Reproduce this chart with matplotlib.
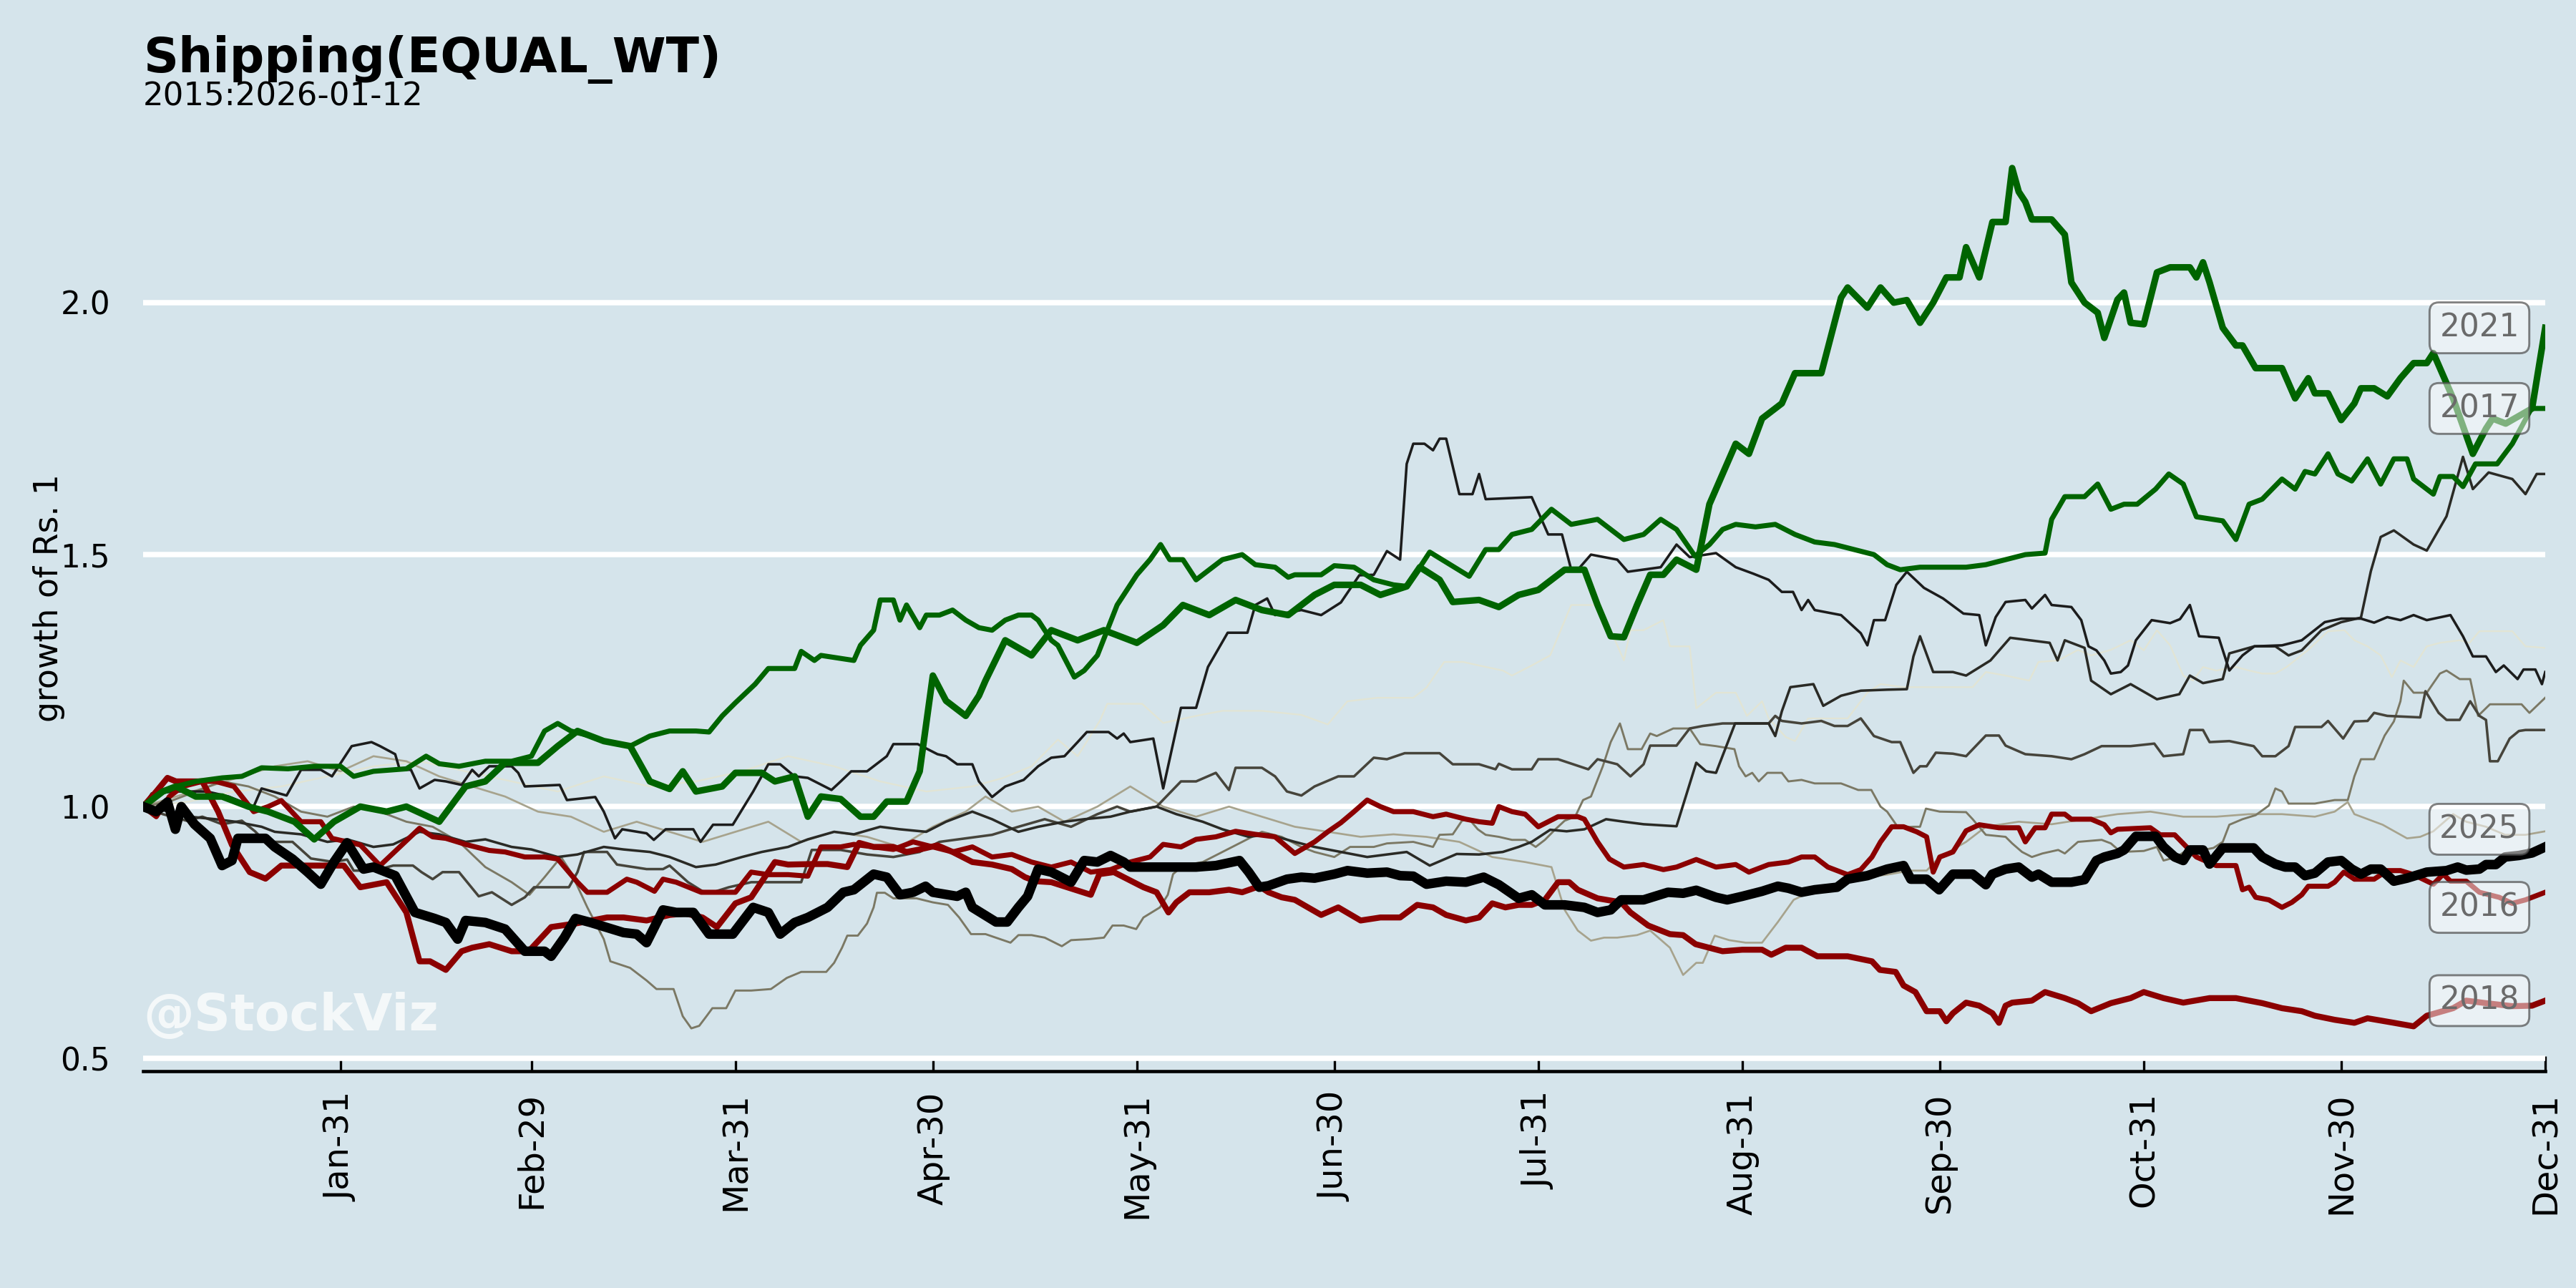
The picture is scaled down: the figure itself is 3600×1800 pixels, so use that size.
import numpy as np
import matplotlib
matplotlib.use("Agg")
import matplotlib.pyplot as plt

# (day of year, growth of Rs. 1) -- day 0 = Jan 1, day 365 = Dec 31
y2021 = [(0, 1.00), (3, 1.03), (5, 1.04), (8, 1.02), (12, 1.02), (16, 1.00), (19, 0.99), (23, 0.97), (26, 0.935),
         (29, 0.97), (33, 1.00), (37, 0.99), (40, 1.00), (45, 0.97), (49, 1.04), (52, 1.05), (55, 1.087), (60, 1.087),
         (63, 1.12), (66, 1.15), (70, 1.13), (74, 1.12), (77, 1.05), (80, 1.035), (82, 1.07), (84, 1.03), (88, 1.04),
         (90, 1.067), (94, 1.067), (96, 1.05), (99, 1.06), (101, 0.98), (103, 1.02), (106, 1.015), (109, 0.98),
         (111, 0.98), (113, 1.01), (116, 1.01), (118, 1.07), (120, 1.26), (122, 1.21), (125, 1.18), (127, 1.22),
         (128, 1.25), (131, 1.33), (135, 1.30), (138, 1.35), (142, 1.33), (146, 1.35), (151, 1.325), (155, 1.36),
         (158, 1.40), (162, 1.38), (166, 1.41), (170, 1.39), (174, 1.38), (178, 1.42), (181, 1.44), (185, 1.44),
         (188, 1.42), (192, 1.437), (194, 1.475), (197, 1.45), (199, 1.406), (203, 1.41), (206, 1.396), (209, 1.42),
         (212, 1.43), (216, 1.47), (219, 1.47), (221, 1.40), (223, 1.338), (225, 1.336), (227, 1.40), (229, 1.46),
         (231, 1.46), (233, 1.49), (236, 1.47), (238, 1.60), (240, 1.66), (242, 1.72), (244, 1.70), (246, 1.77),
         (249, 1.80), (251, 1.86), (255, 1.86), (258, 2.01), (259, 2.03), (262, 1.99), (264, 2.03), (266, 2.00),
         (268, 2.005), (270, 1.96), (272, 2.00), (274, 2.05), (276, 2.05), (277, 2.11), (279, 2.05), (281, 2.16),
         (283, 2.16), (284, 2.267), (285, 2.22), (286, 2.20), (287, 2.165), (290, 2.165), (292, 2.135), (293, 2.04),
         (295, 2.00), (297, 1.98), (298, 1.93), (300, 2.006), (301, 2.02), (302, 1.96), (304, 1.957), (306, 2.06),
         (308, 2.07), (311, 2.07), (312, 2.05), (313, 2.08), (314, 2.04), (316, 1.95), (318, 1.915), (319, 1.915),
         (321, 1.87), (325, 1.87), (327, 1.81), (329, 1.85), (330, 1.82), (332, 1.82), (334, 1.767), (336, 1.80),
         (337, 1.83), (339, 1.83), (341, 1.814), (343, 1.85), (345, 1.88), (347, 1.88), (348, 1.90), (351, 1.81),
         (354, 1.70), (356, 1.75), (357, 1.77), (359, 1.76), (361, 1.775), (363, 1.79), (365, 1.95)]

y2017 = [(0, 1.00), (3, 1.03), (5, 1.04), (8, 1.05), (12, 1.057), (15, 1.06), (18, 1.077), (22, 1.075), (26, 1.08),
         (30, 1.08), (32, 1.06), (35, 1.07), (40, 1.075), (43, 1.10), (45, 1.085), (48, 1.08), (52, 1.09), (56, 1.09),
         (59, 1.10), (61, 1.15), (63, 1.165), (65, 1.15), (68, 1.14), (70, 1.13), (74, 1.12), (77, 1.14), (80, 1.15),
         (84, 1.15), (86, 1.148), (88, 1.18), (90, 1.206), (93, 1.243), (95, 1.274), (99, 1.274), (100, 1.308),
         (102, 1.29), (103, 1.30), (108, 1.29), (109, 1.32), (111, 1.35), (112, 1.41), (114, 1.41), (115, 1.37),
         (116, 1.40), (118, 1.355), (119, 1.38), (121, 1.38), (123, 1.39), (125, 1.37), (127, 1.355), (129, 1.35),
         (131, 1.37), (133, 1.38), (135, 1.38), (136, 1.37), (138, 1.33), (139, 1.32), (141.5, 1.257), (143, 1.27),
         (145, 1.30), (148, 1.40), (151, 1.46), (153, 1.49), (154.6, 1.52), (156, 1.49), (158, 1.49), (160, 1.45),
         (162, 1.47), (164, 1.49), (167, 1.50), (169, 1.48), (172, 1.475), (174, 1.455), (175, 1.46), (179, 1.46),
         (181, 1.478), (184, 1.475), (187, 1.45), (190, 1.44), (192, 1.437), (194, 1.475), (195.5, 1.505),
         (198, 1.485), (201.5, 1.457), (204, 1.51), (206, 1.51), (208, 1.54), (211, 1.55), (214, 1.59), (217, 1.56),
         (221, 1.57), (223, 1.55), (225, 1.53), (228, 1.54), (230.6, 1.57), (233, 1.55), (235.8, 1.497), (238, 1.52),
         (240, 1.55), (242, 1.56), (245, 1.555), (248, 1.56), (251, 1.54), (254, 1.525), (257, 1.52), (260, 1.51),
         (263, 1.50), (265, 1.48), (267, 1.47), (270, 1.475), (273, 1.475), (277, 1.475), (280, 1.48), (283, 1.49),
         (286, 1.50), (289, 1.503), (290, 1.57), (292, 1.615), (295, 1.615), (297, 1.64), (299, 1.59), (301, 1.60),
         (303, 1.60), (305.8, 1.63), (307.8, 1.66), (310, 1.64), (312, 1.575), (316, 1.567), (318, 1.53), (320, 1.60),
         (322, 1.61), (325, 1.65), (327, 1.63), (328.5, 1.665), (330, 1.66), (332, 1.70), (333.5, 1.66),
         (335.6, 1.646), (338, 1.69), (340, 1.64), (342, 1.69), (344, 1.69), (345, 1.65), (348, 1.62), (349, 1.655),
         (351, 1.655), (352.5, 1.635), (354.4, 1.68), (357.7, 1.68), (360, 1.72), (362.9, 1.79), (365, 1.79)]

y2018 = [(0, 1.00), (2, 1.03), (3.7, 1.057), (5, 1.05), (6.6, 1.05), (9, 1.05), (11.4, 0.99), (13.5, 0.924),
         (16.2, 0.87), (18.6, 0.857), (21, 0.883), (26, 0.883), (30.5, 0.883), (33, 0.84), (37, 0.85), (40, 0.79),
         (42, 0.693), (43.6, 0.693), (46, 0.676), (48.4, 0.713), (50, 0.72), (52.6, 0.727), (56, 0.713), (58.6, 0.713),
         (62, 0.761), (65.7, 0.768), (70.5, 0.78), (73, 0.78), (76.5, 0.774), (80, 0.785), (82.4, 0.788), (85, 0.78),
         (87.2, 0.761), (90, 0.808), (92.4, 0.82), (96, 0.89), (98, 0.885), (101.6, 0.886), (104, 0.886), (107, 0.88),
         (108.8, 0.928), (111, 0.92), (114, 0.92), (116, 0.91), (118, 0.915), (120.7, 0.923), (123, 0.91), (126, 0.89),
         (129, 0.885), (132, 0.876), (134, 0.86), (135.6, 0.852), (138, 0.85), (141.6, 0.835), (144, 0.825),
         (145.3, 0.866), (147.5, 0.87), (149, 0.86), (150.5, 0.85), (152, 0.84), (154, 0.83), (155.8, 0.79),
         (157, 0.81), (159, 0.83), (162, 0.83), (165, 0.835), (167, 0.83), (169.6, 0.842), (171, 0.83), (173, 0.82),
         (175, 0.815), (177, 0.80), (179, 0.785), (181.6, 0.80), (185, 0.774), (188, 0.78), (191, 0.78),
         (193.6, 0.805), (196, 0.80), (198, 0.785), (201, 0.774), (203, 0.78), (205, 0.808), (207, 0.80),
         (209, 0.805), (211, 0.805), (213, 0.815), (215, 0.85), (216.7, 0.85), (218, 0.835), (221, 0.818),
         (224.6, 0.81), (226, 0.79), (228.7, 0.764), (232, 0.747), (234, 0.745), (235.9, 0.727), (240, 0.713),
         (243, 0.716), (246, 0.716), (247.4, 0.706), (249.6, 0.72), (252, 0.72), (254.4, 0.703), (259, 0.703),
         (262.7, 0.693), (263.9, 0.676), (266.3, 0.672), (267.5, 0.645), (269.3, 0.632), (271, 0.594), (273, 0.594),
         (274, 0.574), (275, 0.59), (277, 0.611), (279, 0.605), (281, 0.59), (282, 0.571), (283, 0.605), (284, 0.611),
         (287, 0.615), (289, 0.632), (292, 0.62), (294, 0.61), (296, 0.594), (299, 0.61), (302, 0.62), (304, 0.632),
         (307, 0.62), (310, 0.611), (314, 0.62), (318, 0.62), (322, 0.61), (325, 0.60), (328, 0.594), (330, 0.585),
         (333, 0.577), (336, 0.571), (338, 0.58), (342, 0.571), (345, 0.564), (347, 0.585), (351, 0.60), (353, 0.615),
         (356, 0.61), (360, 0.604), (363, 0.605), (365, 0.615)]

y2016 = [(0, 1.00), (2, 0.98), (4, 1.02), (6, 1.04), (9, 1.05), (11, 1.05), (13.8, 1.04), (16.8, 0.99), (19, 1.00),
         (21, 1.012), (24, 0.97), (27, 0.97), (28.7, 0.937), (31, 0.93), (33, 0.924), (36, 0.883), (39, 0.92),
         (42, 0.957), (44, 0.94), (46, 0.937), (49, 0.925), (52.6, 0.913), (55, 0.91), (58, 0.90), (61, 0.90),
         (63, 0.896), (66, 0.85), (67.5, 0.83), (70.5, 0.83), (73.5, 0.856), (75, 0.85), (77.7, 0.832), (79, 0.856),
         (81, 0.85), (84.8, 0.83), (88, 0.83), (90, 0.83), (92.4, 0.87), (95, 0.865), (98, 0.865), (101, 0.862),
         (103, 0.92), (106, 0.92), (108, 0.925), (111, 0.92), (114, 0.915), (117, 0.93), (120, 0.92), (123, 0.91),
         (126, 0.92), (129, 0.90), (132, 0.905), (135, 0.89), (138, 0.88), (141, 0.89), (144, 0.87), (147, 0.875),
         (150, 0.89), (153, 0.90), (155, 0.925), (157.7, 0.92), (160, 0.935), (163, 0.94), (166, 0.951), (169, 0.945),
         (172, 0.94), (175, 0.907), (178, 0.93), (180, 0.95), (182, 0.968), (184, 0.99), (186, 1.013), (188, 1.00),
         (190, 0.99), (193, 0.99), (196, 0.98), (198, 0.985), (201, 0.975), (203, 0.97), (205, 0.967), (206, 1.00),
         (208, 0.99), (210, 0.985), (212, 0.96), (215, 0.98), (218, 0.98), (219, 0.975), (221, 0.93), (222.8, 0.896),
         (225, 0.88), (228, 0.885), (231, 0.875), (233, 0.88), (236, 0.895), (239, 0.88), (242, 0.885), (244, 0.87),
         (247, 0.885), (250, 0.89), (252, 0.90), (254, 0.90), (256, 0.88), (258, 0.87), (259, 0.865), (261, 0.875),
         (262.7, 0.90), (264, 0.93), (265.7, 0.96), (267.5, 0.96), (269.5, 0.95), (271, 0.94), (272, 0.87),
         (273, 0.90), (275, 0.91), (277, 0.952), (279, 0.964), (282, 0.958), (285, 0.958), (286, 0.93),
         (287.5, 0.958), (289, 0.958), (290, 0.985), (292, 0.985), (293, 0.975), (296, 0.975), (298, 0.964),
         (299, 0.948), (300, 0.955), (305, 0.958), (306.5, 0.944), (308.7, 0.944), (310.5, 0.92), (312, 0.90),
         (315, 0.883), (318, 0.883), (319, 0.835), (320, 0.84), (321, 0.82), (323, 0.815), (325, 0.80),
         (326.5, 0.81), (328, 0.825), (329, 0.842), (332, 0.842), (333, 0.85), (334.4, 0.87), (336, 0.856),
         (339, 0.856), (341, 0.873), (343, 0.873), (345, 0.865), (348, 0.846), (349.5, 0.866), (350.6, 0.852),
         (353, 0.852), (355, 0.83), (358, 0.82), (360, 0.808), (362, 0.815), (365, 0.83)]

y2025 = [(0, 1.00), (2, 0.99), (3.7, 1.009), (4.9, 0.955), (5.8, 1.00), (7.8, 0.965), (10.2, 0.937), (12, 0.883),
         (13.5, 0.893), (14.4, 0.937), (18.6, 0.937), (20, 0.92), (22.7, 0.896), (25, 0.87), (27, 0.846), (29, 0.89),
         (31, 0.928), (33.5, 0.876), (35, 0.88), (38.3, 0.863), (41.3, 0.79), (44.3, 0.778), (46, 0.77),
         (47.8, 0.737), (49, 0.774), (52, 0.77), (55, 0.757), (58, 0.713), (61, 0.713), (62, 0.703), (64, 0.74),
         (65.7, 0.778), (68, 0.77), (70.5, 0.76), (73, 0.75), (75, 0.747), (76.5, 0.73), (79, 0.795), (81, 0.79),
         (83.6, 0.79), (86, 0.747), (89.6, 0.747), (92.7, 0.80), (95, 0.79), (96.8, 0.747), (99, 0.77), (101, 0.78),
         (104, 0.80), (106.4, 0.83), (108, 0.835), (111, 0.866), (113, 0.86), (115, 0.825), (117, 0.83),
         (118.9, 0.842), (120, 0.83), (123.7, 0.822), (125, 0.83), (126, 0.80), (129.6, 0.771), (131.3, 0.771),
         (133, 0.80), (134.4, 0.822), (136, 0.876), (138, 0.87), (141, 0.85), (143, 0.893), (145, 0.89),
         (147, 0.903), (149, 0.89), (150, 0.88), (155, 0.88), (160, 0.88), (163, 0.883), (166.6, 0.893), (168, 0.87),
         (169.6, 0.84), (171, 0.843), (173.8, 0.856), (176, 0.86), (178, 0.858), (181, 0.866), (183, 0.873),
         (186, 0.868), (189, 0.87), (191, 0.863), (193, 0.862), (195, 0.846), (198, 0.852), (201, 0.85),
         (203.7, 0.86), (206, 0.845), (209, 0.818), (211, 0.825), (213, 0.805), (216, 0.805), (219, 0.80),
         (221, 0.79), (223, 0.795), (224.6, 0.815), (228, 0.815), (231.7, 0.83), (234, 0.828), (236, 0.834),
         (239, 0.82), (240.7, 0.815), (243, 0.822), (246, 0.832), (248.4, 0.842), (250, 0.838), (252, 0.83),
         (254, 0.835), (257.4, 0.84), (259, 0.856), (262, 0.863), (265, 0.876), (267.5, 0.883), (268.6, 0.856),
         (271, 0.856), (272.9, 0.835), (275, 0.866), (278, 0.866), (280, 0.845), (281, 0.866), (283, 0.876),
         (285, 0.88), (287, 0.86), (288, 0.866), (290, 0.85), (293, 0.85), (295, 0.855), (296.8, 0.893),
         (298, 0.90), (300, 0.907), (301, 0.914), (302.8, 0.941), (305.8, 0.941), (307, 0.92), (308.7, 0.90),
         (310, 0.893), (311, 0.914), (313, 0.914), (314, 0.886), (316, 0.918), (320.7, 0.918), (322, 0.90),
         (324, 0.886), (325.5, 0.88), (327, 0.88), (328.5, 0.863), (330, 0.868), (332, 0.89), (334, 0.893),
         (335.6, 0.876), (337, 0.866), (338.5, 0.876), (340, 0.876), (342, 0.852), (344, 0.858), (347, 0.87),
         (350, 0.873), (351.7, 0.88), (353, 0.874), (355, 0.876), (356, 0.885), (357.5, 0.885), (358.9, 0.90),
         (361, 0.903), (363, 0.908), (365, 0.92)]

# the unlabelled years, drawn in greys
y2024 = [(0, 1.00), (1.3, 1.026), (5, 1.03), (9.7, 1.03), (13, 1.02), (16.8, 1.00), (18, 1.036), (21.8, 1.022),
         (24, 1.073), (27, 1.073), (28.7, 1.06), (31.7, 1.12), (34.7, 1.128), (36, 1.12), (38.3, 1.104), (39, 1.073),
         (40.7, 1.073), (42, 1.036), (44.3, 1.053), (46, 1.05), (48.4, 1.043), (50, 1.073), (51, 1.06), (52.6, 1.08),
         (56, 1.08), (57, 1.067), (58, 1.04), (63.3, 1.043), (64.4, 1.013), (68.7, 1.019), (70, 0.99), (71.7, 0.937),
         (72.8, 0.955), (76.5, 0.947), (77.6, 0.934), (79.4, 0.955), (83.6, 0.955), (84.7, 0.93), (86.6, 0.964),
         (89.6, 0.964), (92.7, 1.03), (95, 1.084), (96.8, 1.084), (99, 1.06), (101, 1.057), (104.6, 1.033),
         (106, 1.05), (107.6, 1.07), (110, 1.07), (113, 1.10), (114, 1.124), (117.7, 1.124), (120.7, 1.104),
         (122, 1.10), (123.7, 1.084), (126, 1.084), (127, 1.05), (129, 1.019), (131, 1.04), (133.8, 1.053),
         (136, 1.08), (138, 1.097), (140, 1.10), (142, 1.128), (143.4, 1.148), (146.7, 1.148), (148, 1.135),
         (149, 1.145), (150, 1.128), (153.5, 1.135), (155, 1.036), (157.7, 1.196), (160, 1.196), (161.8, 1.277),
         (164.8, 1.345), (167.8, 1.345), (169, 1.40), (170.8, 1.413), (172, 1.38), (176, 1.39), (179, 1.38),
         (182, 1.405), (184.8, 1.459), (187, 1.46), (189, 1.507), (191, 1.49), (192, 1.68), (193, 1.72),
         (194.7, 1.72), (196, 1.707), (197, 1.73), (198, 1.73), (200, 1.62), (202, 1.62), (203, 1.66), (204, 1.61),
         (211, 1.614), (213.5, 1.54), (215.6, 1.54), (217, 1.47), (218, 1.47), (220, 1.50), (224, 1.49),
         (225.6, 1.466), (230.6, 1.475), (233, 1.52), (235, 1.495), (239, 1.503), (242, 1.475), (244.7, 1.462),
         (247, 1.45), (249, 1.426), (250.7, 1.426), (252, 1.39), (253, 1.41), (254, 1.39), (258, 1.38),
         (261, 1.344), (262, 1.32), (263, 1.37), (264.7, 1.37), (266.4, 1.44), (268, 1.466), (270.6, 1.434),
         (273.5, 1.413), (276.6, 1.383), (279, 1.38), (280, 1.32), (281.5, 1.376), (283, 1.406), (286, 1.41),
         (287, 1.393), (289, 1.42), (290, 1.40), (293, 1.396), (294.5, 1.37), (295.6, 1.318), (296.8, 1.31),
         (298, 1.29), (299, 1.264), (300.5, 1.267), (301.6, 1.28), (302.8, 1.33), (305.2, 1.37), (308, 1.364),
         (309.5, 1.372), (311, 1.40), (312.4, 1.338), (315.4, 1.335), (317, 1.27), (319, 1.30), (320.8, 1.318),
         (325, 1.32), (328, 1.33), (331.5, 1.366), (334, 1.373), (337, 1.373), (339, 1.365), (341, 1.376),
         (343, 1.37), (345, 1.38), (347, 1.37), (350.6, 1.38), (352.5, 1.338), (354, 1.298), (356, 1.298),
         (357.5, 1.267), (358.7, 1.28), (360.8, 1.253), (361.7, 1.272), (363.5, 1.272), (364.5, 1.243), (365, 1.267)]

y2023 = [(0, 1.00), (4, 0.99), (7, 0.98), (11, 0.975), (14, 0.97), (18, 0.96), (20, 0.95), (24, 0.945), (28, 0.93),
         (31, 0.935), (35, 0.92), (38, 0.925), (42, 0.95), (45, 0.945), (49, 0.93), (52, 0.935), (56, 0.92),
         (59, 0.915), (63, 0.90), (66, 0.905), (70, 0.92), (73, 0.915), (77, 0.91), (80, 0.90), (84, 0.88),
         (87, 0.885), (91, 0.90), (94, 0.91), (98, 0.92), (101, 0.935), (105, 0.95), (108, 0.945), (112, 0.96),
         (115, 0.955), (119, 0.95), (122, 0.97), (126, 0.99), (129, 0.975), (133, 0.95), (136, 0.96), (140, 0.97),
         (143, 0.975), (147, 0.98), (150, 0.99), (154, 1.00), (157, 0.985), (161, 0.97), (164, 0.955), (168, 0.94),
         (171, 0.945), (175, 0.93), (178, 0.92), (182, 0.91), (186, 0.90), (189, 0.905), (192, 0.91),
         (195.5, 0.883), (199.6, 0.906), (203, 0.905), (206.6, 0.91), (209, 0.92), (211, 0.93), (213.8, 0.954),
         (216.3, 0.951), (219, 0.955), (222.3, 0.975), (225, 0.97), (228, 0.965), (233, 0.961), (236, 1.087),
         (237.5, 1.07), (239, 1.067), (241.9, 1.165), (247, 1.165), (248, 1.14), (249, 1.189), (250.3, 1.237),
         (253.8, 1.243), (255.3, 1.20), (258, 1.22), (261, 1.23), (265, 1.232), (268, 1.233), (269, 1.298),
         (270, 1.338), (272, 1.267), (275, 1.267), (277, 1.26), (280.7, 1.29), (283.7, 1.335), (289.7, 1.325),
         (290.9, 1.29), (292, 1.33), (295, 1.315), (296, 1.25), (299, 1.223), (302, 1.243), (306, 1.213),
         (309.4, 1.223), (311, 1.26), (313, 1.245), (316, 1.253), (317, 1.304), (320.8, 1.318), (324, 1.318),
         (326, 1.30), (328, 1.31), (331, 1.35), (334, 1.366), (337, 1.375), (338.5, 1.467), (340, 1.535),
         (342, 1.548), (345, 1.52), (347, 1.508), (350, 1.576), (352.5, 1.694), (354, 1.63), (356.4, 1.663),
         (360, 1.65), (362, 1.62), (363.7, 1.66), (365, 1.66)]

y2022 = [(0, 1.00), (3, 0.985), (6.6, 0.972), (9, 0.98), (12, 0.965), (15, 0.972), (17, 0.951), (18.6, 0.93),
         (22.7, 0.93), (25.5, 0.897), (29, 0.89), (31, 0.895), (32, 0.873), (35.2, 0.873), (38, 0.883), (41, 0.883),
         (42.3, 0.87), (44, 0.856), (45.5, 0.87), (48, 0.87), (51, 0.822), (53, 0.83), (56, 0.805), (58, 0.82),
         (59.4, 0.84), (64.7, 0.84), (66, 0.87), (67, 0.91), (70.5, 0.91), (72, 0.885), (76.5, 0.876), (79, 0.876),
         (80, 0.883), (82.8, 0.85), (85, 0.832), (86.6, 0.83), (89, 0.84), (92.4, 0.85), (95, 0.85), (100, 0.85),
         (101.6, 0.914), (106, 0.914), (110, 0.905), (114, 0.90), (118, 0.91), (121, 0.93), (125, 0.937),
         (129, 0.944), (133, 0.96), (137, 0.975), (141, 0.96), (145, 0.985), (148, 1.00), (150, 0.99), (154, 1.00),
         (157.7, 1.05), (160, 1.05), (163, 1.067), (165, 1.033), (166, 1.077), (170, 1.077), (172, 1.06),
         (173.8, 1.03), (176, 1.022), (178, 1.04), (181.6, 1.06), (184, 1.06), (187, 1.097), (189, 1.094),
         (191.7, 1.106), (197, 1.106), (199, 1.084), (203, 1.084), (205.5, 1.074), (206, 1.085), (208, 1.074),
         (211, 1.074), (212, 1.094), (215, 1.094), (219.6, 1.074), (221, 1.094), (224, 1.084), (226, 1.06),
         (228, 1.084), (229, 1.121), (233, 1.121), (235, 1.155), (237, 1.16), (240, 1.165), (247, 1.165),
         (248, 1.18), (249, 1.17), (252, 1.165), (255, 1.17), (257, 1.16), (259, 1.16), (261, 1.175), (263, 1.14),
         (265.7, 1.128), (267, 1.128), (269, 1.067), (270, 1.08), (271, 1.08), (272.4, 1.107), (275, 1.105),
         (277, 1.10), (280, 1.141), (282, 1.141), (283, 1.121), (286, 1.104), (290, 1.10), (293, 1.094),
         (295, 1.104), (297.6, 1.12), (302, 1.12), (305.6, 1.125), (307, 1.10), (310, 1.104), (311, 1.152),
         (313, 1.152), (314, 1.128), (317, 1.13), (320.7, 1.12), (322, 1.10), (324, 1.10), (326, 1.12),
         (327, 1.158), (331, 1.158), (332, 1.17), (334.3, 1.135), (336, 1.169), (338, 1.17), (339, 1.186),
         (341, 1.18), (346, 1.177), (346.8, 1.229), (348.8, 1.186), (350, 1.172), (352, 1.172), (353.6, 1.209),
         (355, 1.18), (356, 1.172), (356.6, 1.09), (357.8, 1.09), (359.6, 1.135), (361, 1.15), (362, 1.152),
         (365, 1.152)]

y2020 = [(0, 1.00), (4, 1.01), (8, 1.03), (12, 1.05), (16, 1.04), (20, 1.02), (24, 0.99), (28, 0.98), (32, 1.00),
         (36, 0.99), (40, 0.97), (44, 0.96), (48, 0.93), (52, 0.88), (56, 0.85), (58.7, 0.825), (61, 0.86),
         (63.5, 0.90), (65, 0.87), (67.5, 0.80), (70, 0.737), (71, 0.693), (74, 0.68), (76.5, 0.655), (78, 0.638),
         (80.6, 0.638), (82, 0.584), (83.3, 0.56), (84.5, 0.565), (85.6, 0.584), (86.5, 0.60), (88.6, 0.60),
         (90, 0.635), (92.4, 0.635), (95.4, 0.638), (97.8, 0.66), (100, 0.672), (103.8, 0.672), (105, 0.69),
         (106.2, 0.72), (107, 0.744), (108.6, 0.744), (110, 0.768), (111, 0.80), (111.5, 0.829), (112.7, 0.829),
         (114, 0.818), (117.5, 0.818), (120, 0.81), (122.3, 0.805), (124, 0.78), (125.8, 0.747), (128, 0.747),
         (131.8, 0.73), (133, 0.745), (135, 0.745), (137, 0.74), (139.6, 0.723), (141, 0.735), (143.7, 0.737),
         (146, 0.74), (147.3, 0.764), (149, 0.764), (150.9, 0.757), (152, 0.78), (154.5, 0.80), (155.7, 0.825),
         (156.5, 0.866), (158, 0.883), (161, 0.89), (164, 0.91), (167, 0.93), (170, 0.95), (173, 0.94), (176, 0.92),
         (178, 0.91), (181, 0.90), (183.4, 0.92), (187, 0.92), (189, 0.927), (193, 0.93), (196, 0.92), (197, 0.944),
         (199, 0.945), (200.4, 0.972), (201.5, 0.975), (202.8, 0.955), (204, 0.944), (206, 0.94), (208, 0.934),
         (210, 0.934), (211.6, 0.92), (213, 0.934), (214.6, 0.955), (216, 0.972), (217.6, 0.98), (218.8, 1.013),
         (220, 1.02), (221.8, 1.08), (223, 1.128), (224.4, 1.165), (225.6, 1.114), (227.7, 1.114), (229, 1.145),
         (230, 1.14), (232.5, 1.155), (235, 1.155), (236.6, 1.124), (239, 1.12), (241.8, 1.114), (242.5, 1.08),
         (243.5, 1.06), (244.5, 1.067), (245.5, 1.05), (246.8, 1.067), (249, 1.067), (250, 1.05), (252, 1.053),
         (254, 1.046), (258, 1.046), (260.6, 1.033), (262.6, 1.033), (264, 1.00), (265, 0.99), (266.7, 0.958),
         (269, 0.96), (270, 0.96), (270.9, 0.996), (273, 0.99), (277, 0.989), (278, 0.975), (280, 0.944),
         (283, 0.94), (284, 0.927), (285.5, 0.91), (287, 0.90), (288.6, 0.907), (291, 0.914), (292, 0.907),
         (294, 0.93), (297.6, 0.934), (299, 0.927), (300.5, 0.91), (304, 0.912), (306, 0.92), (307, 0.893),
         (309, 0.90), (311, 0.918), (313, 0.914), (314.6, 0.918), (316, 0.93), (317, 0.964), (319, 0.975),
         (321, 0.983), (323, 1.002), (324, 1.036), (325, 1.03), (326, 1.006), (330, 1.006), (333, 1.013),
         (335, 1.013), (336, 1.06), (337, 1.094), (339, 1.094), (340.6, 1.141), (342, 1.169), (343, 1.209),
         (343.5, 1.25), (345, 1.226), (347, 1.226), (348, 1.245), (349, 1.264), (350, 1.27), (352, 1.253),
         (353.6, 1.253), (354.8, 1.18), (356.6, 1.203), (361.4, 1.203), (362.6, 1.186), (365, 1.216)]

y2019 = [(0, 1.00), (5, 1.02), (10, 1.04), (15, 1.06), (20, 1.08), (25, 1.09), (30, 1.07), (35, 1.10), (40, 1.09),
         (45, 1.06), (50, 1.04), (55, 1.02), (60, 0.99), (65, 0.98), (70, 0.95), (75, 0.97), (80, 0.95), (85, 0.93),
         (90, 0.95), (95, 0.97), (100, 0.93), (105, 0.95), (110, 0.94), (115, 0.92), (120, 0.96), (125, 0.99),
         (128, 1.02), (132, 0.99), (136, 1.00), (140, 0.97), (145, 1.00), (150, 1.04), (155, 1.00), (160, 0.98),
         (165, 1.00), (170, 0.98), (175, 0.96), (180, 0.95), (185, 0.94), (190, 0.945), (195, 0.94), (200, 0.93),
         (205, 0.90), (210, 0.89), (214, 0.88), (216, 0.795), (218, 0.754), (220, 0.734), (222, 0.74), (224, 0.74),
         (227, 0.745), (229, 0.754), (232, 0.72), (234, 0.666), (236, 0.69), (237, 0.69), (238.8, 0.744),
         (241, 0.735), (243.5, 0.73), (246, 0.73), (248.4, 0.771), (250.8, 0.815), (253, 0.829), (256, 0.84),
         (259, 0.85), (262, 0.86), (265, 0.865), (268.5, 0.873), (271, 0.873), (273, 0.90), (277, 0.93),
         (280, 0.96), (285, 0.97), (290, 0.965), (295, 0.975), (300, 0.985), (305, 0.99), (310, 0.98), (315, 0.98),
         (320, 0.985), (325, 0.985), (330, 0.98), (333, 0.99), (335, 1.009), (336, 0.985), (340.3, 0.964),
         (344, 0.937), (346, 0.94), (348, 0.951), (351, 0.985), (353, 0.97), (356, 0.96), (358.9, 0.944),
         (362, 0.944), (365, 0.951)]

y2015 = [(0, 1.00), (7, 1.01), (14, 1.03), (21, 1.04), (28, 1.06), (35, 1.08), (42, 1.09), (49, 1.07), (56, 1.05),
         (63, 1.03), (70, 1.06), (77, 1.04), (84, 1.05), (91, 1.07), (98, 1.10), (105, 1.08), (112, 1.05),
         (119, 1.03), (126, 1.04), (130.7, 1.057), (135, 1.08), (139, 1.133), (142, 1.10), (145.4, 1.171),
         (146.5, 1.204), (151.8, 1.204), (155, 1.166), (160, 1.18), (164, 1.19), (170, 1.19), (176, 1.182),
         (180, 1.163), (183, 1.209), (187.6, 1.216), (193, 1.216), (195, 1.236), (197.7, 1.287), (200.6, 1.287),
         (203, 1.28), (206.6, 1.27), (208, 1.26), (211, 1.28), (213.8, 1.30), (217, 1.40), (221, 1.40), (223, 1.35),
         (225, 1.29), (226, 1.35), (228, 1.35), (229.5, 1.36), (231, 1.37), (232, 1.318), (235, 1.318),
         (236, 1.195), (239, 1.226), (242, 1.226), (243.7, 1.18), (246, 1.209), (247, 1.175), (249.6, 1.138),
         (251, 1.13), (253, 1.175), (259, 1.175), (262, 1.226), (264, 1.243), (267.5, 1.237), (273, 1.237),
         (278, 1.237), (280, 1.267), (283, 1.26), (286.6, 1.25), (288, 1.287), (291, 1.29), (294, 1.311),
         (296, 1.30), (299, 1.311), (302, 1.33), (304, 1.31), (306, 1.35), (308, 1.32), (310, 1.26), (311.5, 1.25),
         (313, 1.277), (315, 1.27), (318, 1.277), (320, 1.27), (322, 1.264), (324, 1.264), (325.7, 1.277),
         (329, 1.311), (332, 1.348), (334.5, 1.35), (336, 1.33), (338, 1.318), (340, 1.30), (341.7, 1.257),
         (343, 1.29), (345, 1.277), (347, 1.318), (349, 1.325), (352, 1.33), (353.5, 1.325), (355, 1.348),
         (360, 1.348), (362, 1.318), (365, 1.315)]

# month-end ticks (leap-year calendar)
tick_days = [30, 59, 90, 120, 151, 181, 212, 243, 273, 304, 334, 365]
tick_labels = ["Jan-31", "Feb-29", "Mar-31", "Apr-30", "May-31", "Jun-30",
               "Jul-31", "Aug-31", "Sep-30", "Oct-31", "Nov-30", "Dec-31"]
y_ticks = [0.5, 1.0, 1.5, 2.0]

# style per year: colour, line width
grey_style = {
    2015: ("#e2e4d4", 0.55),
    2019: ("#a7a38d", 0.65),
    2020: ("#7b7864", 0.7),
    2022: ("#46443b", 0.85),
    2023: ("#2a2a25", 0.85),
    2024: ("#1c1c1c", 0.85),
}
hi_style = {
    2016: ("#8b0000", 1.7),
    2018: ("#8b0000", 2.0),
    2017: ("#006400", 1.7),
    2021: ("#006400", 2.2),
    2025: ("#000000", 3.2),
}
label_nudge = {2021: 0.0, 2017: 0.0, 2025: 0.035, 2016: -0.03, 2018: 0.0}

series = {2015: y2015, 2016: y2016, 2017: y2017, 2018: y2018, 2019: y2019, 2020: y2020,
          2021: y2021, 2022: y2022, 2023: y2023, 2024: y2024, 2025: y2025}


def unzip(pts):
    d, v = zip(*pts)
    return np.array(d, dtype=float), np.array(v, dtype=float)


bg = "#d5e4eb"
fig = plt.figure(figsize=(12, 6), dpi=300, facecolor=bg)
ax = fig.add_axes([200 / 3600, 1 - 1497 / 1800, 3357 / 3600, 1322 / 1800])
ax.set_facecolor(bg)

for yr, (col, lw) in grey_style.items():
    d, v = unzip(series[yr])
    ax.plot(d, v, color=col, lw=lw, solid_joinstyle="round", zorder=2)

for yr in [2016, 2018, 2017, 2021, 2025]:
    col, lw = hi_style[yr]
    d, v = unzip(series[yr])
    ax.plot(d, v, color=col, lw=lw, solid_joinstyle="round", zorder=3)

for yr, nudge in label_nudge.items():
    d, v = unzip(series[yr])
    ax.text(355, v[-1] + nudge, str(yr), ha="center", va="center", fontsize=10.5, color="#6a6a6a", zorder=5,
            bbox=dict(boxstyle="round,pad=0.32,rounding_size=0.3", fc=(1, 1, 1, 0.5),
                      ec=(0.3, 0.3, 0.3, 0.7), lw=0.7))

ax.set_xlim(0, 365)
ax.set_ylim(0.475, 2.352)
ax.set_xticks(tick_days)
ax.set_xticklabels(tick_labels, rotation=90, fontsize=11.5)
ax.set_yticks(y_ticks)
ax.set_yticklabels([f"{t:.1f}" for t in y_ticks], fontsize=10.5)
ax.grid(axis="y", color="white", lw=1.8)
ax.grid(axis="x", visible=False)
ax.set_axisbelow(True)
ax.tick_params(axis="x", direction="in", length=5, width=0.8, pad=7, color="black")
ax.tick_params(axis="y", length=0, pad=11)
for s in ["top", "right", "left"]:
    ax.spines[s].set_visible(False)
ax.spines["bottom"].set_color("black")
ax.spines["bottom"].set_linewidth(1.1)

ax.text(0.0, 0.043, "@StockViz", transform=ax.transAxes, fontsize=17, fontweight="bold",
        color="white", alpha=0.75, ha="left", va="baseline", zorder=1)

fig.text(69 / 3600, 1 - 836 / 1800, "growth of Rs. 1", rotation=90, ha="center", va="center", fontsize=11)
fig.text(200 / 3600, 0.944, "Shipping(EQUAL_WT)", fontsize=16.3, fontweight="bold", va="baseline")
fig.text(200 / 3600, 0.918, "2015:2026-01-12", fontsize=10.8, va="baseline")

fig.savefig("out.png", dpi=300, facecolor=bg)
